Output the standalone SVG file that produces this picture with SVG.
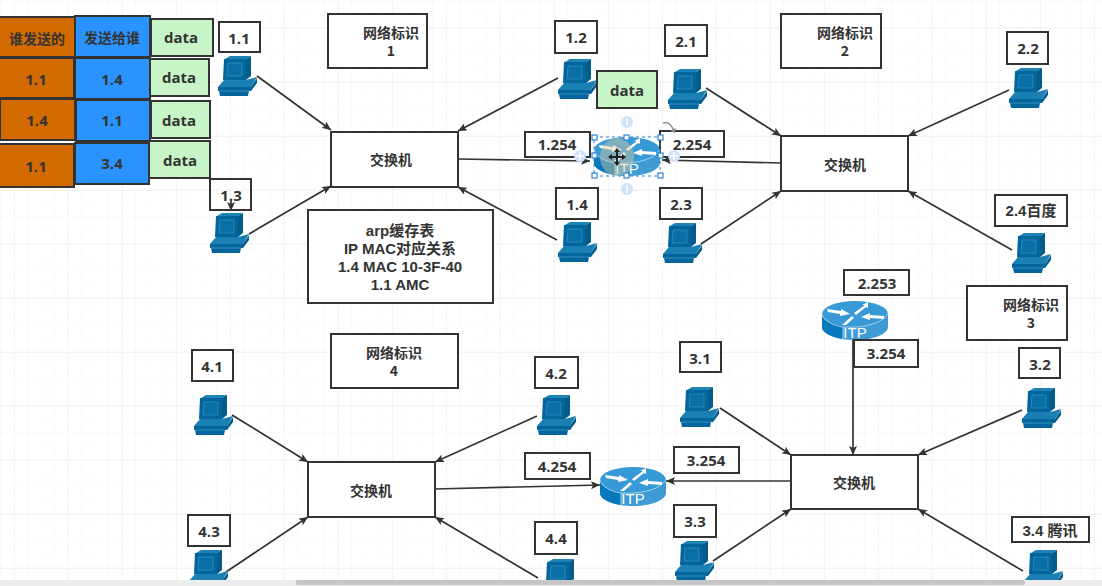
<svg xmlns="http://www.w3.org/2000/svg" width="1102" height="586" viewBox="0 0 1102 586">
<style>
.b{fill:#fff;stroke:#333;stroke-width:2}
.o{fill:#d26a00;stroke:#333;stroke-width:2}
.u{fill:#2a93ff;stroke:#333;stroke-width:2}
.g{fill:#c8f5c8;stroke:#333;stroke-width:2}
text{font-family:"Open Sans","Noto Sans CJK SC",sans-serif;font-size:15px;font-weight:700;fill:#333;text-anchor:middle;dominant-baseline:central}
.c{font-family:"Noto Sans CJK SC","Open Sans",sans-serif;font-size:14px;font-weight:700}
.a{font-family:"Liberation Sans","Noto Sans CJK SC",sans-serif;font-size:15px}
.l{stroke:#333;stroke-width:1.7;fill:none;marker-end:url(#a)}
.h{fill:#fff;stroke:#2a86d8;stroke-width:1.2}
.p{fill:#cfe4fa}
.pp{stroke:#fff;stroke-width:1.5}
</style>
<defs>
<pattern id="mi" width="13.5" height="13.5" patternUnits="userSpaceOnUse" x="1" y="1"><path d="M13.5 0V13.5M0 13.5H13.5" stroke="#f5f5f5" fill="none"/></pattern>
<pattern id="ma" width="54" height="54" patternUnits="userSpaceOnUse" x="14" y="28"><path d="M0 0V54M0 0H54" stroke="#ececec" fill="none"/></pattern>
<marker id="a" markerWidth="10" markerHeight="8" refX="9" refY="4" orient="auto" markerUnits="userSpaceOnUse"><path d="M0 0L9 4L0 8L2 4Z" fill="#333"/></marker>
<symbol id="pc" viewBox="0 0 40 40" width="40" height="40" overflow="visible">
<path d="M7 3L12 0H33L28 3Z" fill="#1d82b4"/>
<path d="M28 3L33 0V20L28 24Z" fill="#045c8a"/>
<path d="M6 3H28V24H5Z" fill="#03659b"/>
<path d="M10 7H24V20H9Z" fill="#0a6fa6" stroke="#3d9cc8" stroke-width=".6"/>
<path d="M0 31L6 24H28L39 21L33 31Z" fill="#1a7fb2"/>
<path d="M0 31H33V35H0Z" fill="#03659b"/>
<path d="M33 31L39 22V27L33 35Z" fill="#045c8a"/>
<path d="M1 35H31L30 40H2Z" fill="#03659b"/>
<path d="M1 35H31" stroke="#4fa6cf" stroke-width=".7"/>
</symbol>
<symbol id="rt" viewBox="0 0 66 39" width="66" height="39" overflow="visible">
<path d="M0 13V26C0 33 15 39 33 39S66 33 66 26V13Z" fill="#3f9bd3"/>
<path d="M0 13V26C0 32 10 36 21 38V25C10 24 0 20 0 13Z" fill="#0679bc"/>
<ellipse cx="33" cy="13" rx="33" ry="13" fill="#379ad6"/>
<path d="M0 13C2 20 12 25 21 26C35 27 58 25 66 13" stroke="#cfe8f6" stroke-width=".7" fill="none"/>
<path d="M21 26V39" stroke="#cfe8f6" stroke-width=".8"/>
<path d="M5 8L19 10V8L28 13L18 15V13L6 11Z M32 12L43 4H40L46 1V7L44 6L34 14Z M39 16L48 12V14L62 15V18L48 17V19Z M20 24L30 15L32 17L24 24Z" fill="#fff"/>
<text x="33" y="31" style="font-size:15px;font-weight:400;fill:#fff;font-family:'Liberation Sans',sans-serif">ITP</text>
</symbol>
</defs>
<rect width="1102" height="586" fill="#fff"/>
<rect width="1102" height="586" fill="url(#mi)"/>
<rect width="1102" height="586" fill="url(#ma)"/>
<g id="connectors">
<path class="l" d="M257 76L331 130"/>
<path class="l" d="M249 234L331 186"/>
<path class="l" d="M558 78L458 131"/>
<path class="l" d="M557 240L458 187"/>
<path class="l" d="M458 159L590 161"/>
<path class="l" d="M781 163L662 160"/>
<path class="l" d="M706 88L781 136"/>
<path class="l" d="M701 244L781 191"/>
<path class="l" d="M1009 90L908 136"/>
<path class="l" d="M1012 250L908 191"/>
<path class="l" d="M232 415L308 462"/>
<path class="l" d="M226 572L308 517"/>
<path class="l" d="M537 416L435 462"/>
<path class="l" d="M538 578L435 517"/>
<path class="l" d="M435 489L600 485"/>
<path class="l" d="M791 481L666 481"/>
<path class="l" d="M720 408L791 455"/>
<path class="l" d="M713 561L791 509"/>
<path class="l" d="M1023 571L918 509"/>
<path class="l" d="M1022 410L918 455"/>
<path class="l" d="M853 340L853 455"/>
<path class="l" d="M231 201L231 211"/>
</g>
<g id="table">
<g id="t00"><rect class="o" x="-2" y="17" width="77" height="40"/><text class="c" x="37" y="38">谁发送的</text></g>
<g id="t01"><rect class="u" x="75" y="16" width="75" height="41"/><text class="c" x="112" y="37">发送给谁</text></g>
<g id="t02"><rect class="g" x="151" y="19" width="62" height="37"/><text x="181" y="37">data</text></g>
<g id="t10"><rect class="o" x="-2" y="58" width="76" height="40"/><text x="36" y="79">1.1</text></g>
<g id="t11"><rect class="u" x="75" y="58" width="75" height="41"/><text x="112" y="79">1.4</text></g>
<g id="t12"><rect class="g" x="150" y="59" width="59" height="37"/><text x="179" y="77">data</text></g>
<g id="t20"><rect class="o" x="0" y="99" width="75" height="41"/><text x="37" y="120">1.4</text></g>
<g id="t21"><rect class="u" x="76" y="100" width="74" height="41"/><text x="112" y="120">1.1</text></g>
<g id="t22"><rect class="g" x="151" y="101" width="59" height="37"/><text x="179" y="120">data</text></g>
<g id="t30"><rect class="o" x="-2" y="144" width="76" height="43"/><text x="36" y="166">1.1</text></g>
<g id="t31"><rect class="u" x="75" y="143" width="74" height="41"/><text x="112" y="163">3.4</text></g>
<g id="t32"><rect class="g" x="149" y="141" width="61" height="37"/><text x="180" y="160">data</text></g>
</g>
<g id="n11"><rect class="b" x="219" y="22" width="41" height="30"/><text x="239" y="38">1.1</text><use href="#pc" x="218" y="56"/></g>
<g id="n13"><use href="#pc" x="210" y="213"/><rect class="b" x="210" y="179" width="41" height="31" fill-opacity="0"/><text x="231" y="195">1.3</text></g>
<g id="net1"><rect class="b" x="328" y="14" width="99" height="54"/><text class="c" x="391" y="32">网络标识</text><text class="c" x="391" y="50">1</text></g>
<g id="n12"><rect class="b" x="555" y="21" width="42" height="32"/><text x="576" y="37">1.2</text><use href="#pc" x="558" y="59"/></g>
<g id="data"><rect class="g" x="597" y="71" width="60" height="37"/><text x="627" y="90">data</text></g>
<g id="n21"><rect class="b" x="665" y="25" width="42" height="31"/><text x="686" y="41">2.1</text><use href="#pc" x="668" y="69"/></g>
<g id="net2"><rect class="b" x="781" y="14" width="100" height="54"/><text class="c" x="845" y="32">网络标识</text><text class="c" x="845" y="50">2</text></g>
<g id="n22"><rect class="b" x="1007" y="32" width="41" height="32"/><text x="1028" y="48">2.2</text><use href="#pc" x="1009" y="68"/></g>
<g id="sw1"><rect class="b" x="331" y="132" width="127" height="55"/><text class="c" x="391" y="159">交换机</text></g>
<g id="sw2"><rect class="b" x="781" y="136" width="127" height="55"/><text class="c" x="845" y="164">交换机</text></g>
<g id="n1254"><rect class="b" x="525" y="132" width="65" height="25"/><text x="557" y="144">1.254</text></g>
<g id="n2254"><rect class="b" x="660" y="131" width="64" height="26"/><text x="692" y="144">2.254</text></g>
<g id="router1"><use href="#rt" x="594" y="137"/>
<ellipse cx="617" cy="157" rx="17" ry="19" fill="#d8c8a0" opacity=".45"/>
<rect x="594" y="137" width="66" height="39" fill="none" stroke="#2a86d8" stroke-dasharray="3 3"/>
<rect class="h" x="592" y="135" width="5" height="5"/><rect class="h" x="624" y="135" width="5" height="5"/><rect class="h" x="658" y="135" width="5" height="5"/>
<rect class="h" x="592" y="153" width="5" height="5"/><rect class="h" x="658" y="153" width="5" height="5"/>
<rect class="h" x="592" y="173" width="5" height="5"/><rect class="h" x="624" y="173" width="5" height="5"/><rect class="h" x="658" y="173" width="5" height="5"/>
<circle class="p" cx="627" cy="122" r="6"/><path class="pp" d="M627 118V126"/>
<circle class="p" cx="627" cy="189" r="6"/><path class="pp" d="M627 185V193"/>
<circle class="p" cx="580" cy="156" r="6"/><path class="pp" d="M576 156H584M580 152V160"/>
<circle class="p" cx="674" cy="156" r="6"/><path class="pp" d="M670 156H678M674 152V160"/>
<path d="M663 123Q671 121 674 132" stroke="#888" stroke-width="1.3" fill="none"/><path d="M670 131L675 133L676 128Z" fill="#888"/>
<path d="M617 149V165M609 157H625" stroke="#222" stroke-width="2"/><path d="M614 152L617 148L620 152ZM614 162L617 166L620 162ZM612 154L608 157L612 160ZM622 154L626 157L622 160Z" fill="#222"/>
</g>
<g id="n14"><rect class="b" x="556" y="188" width="42" height="31"/><text x="577" y="204">1.4</text><use href="#pc" x="558" y="222"/></g>
<g id="n23"><rect class="b" x="660" y="188" width="42" height="31"/><text x="681" y="204">2.3</text><use href="#pc" x="663" y="223"/></g>
<g id="n24"><rect class="b" x="995" y="195" width="72" height="31"/><text class="a" x="1031" y="210">2.4百度</text><use href="#pc" x="1012" y="233"/></g>
<g id="arp"><rect class="b" x="308" y="210" width="185" height="93"/><text class="a" x="400" y="230">arp缓存表</text><text class="a" x="400" y="248">IP MAC对应关系</text><text class="a" x="400" y="266">1.4 MAC 10-3F-40</text><text class="a" x="400" y="284">1.1 AMC</text></g>
<g id="n2253"><rect class="b" x="844" y="270" width="65" height="25"/><text x="877" y="283">2.253</text></g>
<g id="router2"><use href="#rt" x="822" y="301"/></g>
<g id="n3254a"><rect class="b" x="854" y="340" width="64" height="27"/><text x="886" y="353">3.254</text></g>
<g id="net3"><rect class="b" x="967" y="286" width="100" height="54"/><text class="c" x="1031" y="304">网络标识</text><text class="c" x="1031" y="322">3</text></g>
<g id="n31"><rect class="b" x="680" y="342" width="41" height="30"/><text x="700" y="358">3.1</text><use href="#pc" x="680" y="387"/></g>
<g id="n32"><rect class="b" x="1019" y="348" width="41" height="30"/><text x="1040" y="364">3.2</text><use href="#pc" x="1022" y="388"/></g>
<g id="net4"><rect class="b" x="331" y="334" width="127" height="54"/><text class="c" x="394" y="352">网络标识</text><text class="c" x="394" y="370">4</text></g>
<g id="n41"><rect class="b" x="192" y="350" width="41" height="31"/><text x="212" y="366">4.1</text><use href="#pc" x="194" y="395"/></g>
<g id="n42"><rect class="b" x="535" y="357" width="43" height="31"/><text x="556" y="373">4.2</text><use href="#pc" x="537" y="395"/></g>
<g id="sw4"><rect class="b" x="308" y="462" width="127" height="55"/><text class="c" x="371" y="490">交换机</text></g>
<g id="sw3"><rect class="b" x="791" y="455" width="127" height="54"/><text class="c" x="854" y="482">交换机</text></g>
<g id="n4254"><rect class="b" x="525" y="453" width="65" height="26"/><text x="557" y="466">4.254</text></g>
<g id="router3"><use href="#rt" x="600" y="467"/></g>
<g id="n3254b"><rect class="b" x="674" y="447" width="65" height="26"/><text x="706" y="460">3.254</text></g>
<g id="n43"><rect class="b" x="188" y="515" width="42" height="31"/><text x="209" y="531">4.3</text><use href="#pc" x="189" y="550"/></g>
<g id="n44"><rect class="b" x="535" y="522" width="42" height="32"/><text x="556" y="538">4.4</text><use href="#pc" x="541" y="559"/></g>
<g id="n33"><rect class="b" x="674" y="505" width="42" height="32"/><text x="695" y="521">3.3</text><use href="#pc" x="675" y="541"/></g>
<g id="n34"><rect class="b" x="1012" y="517" width="77" height="25"/><text class="a" x="1050" y="530">3.4 腾讯</text><use href="#pc" x="1024" y="550"/></g>
<rect y="580" width="1102" height="6" fill="#ececec"/>
<rect x="296" y="580" width="729" height="5" rx="2" fill="#c6c6c6"/>
</svg>
